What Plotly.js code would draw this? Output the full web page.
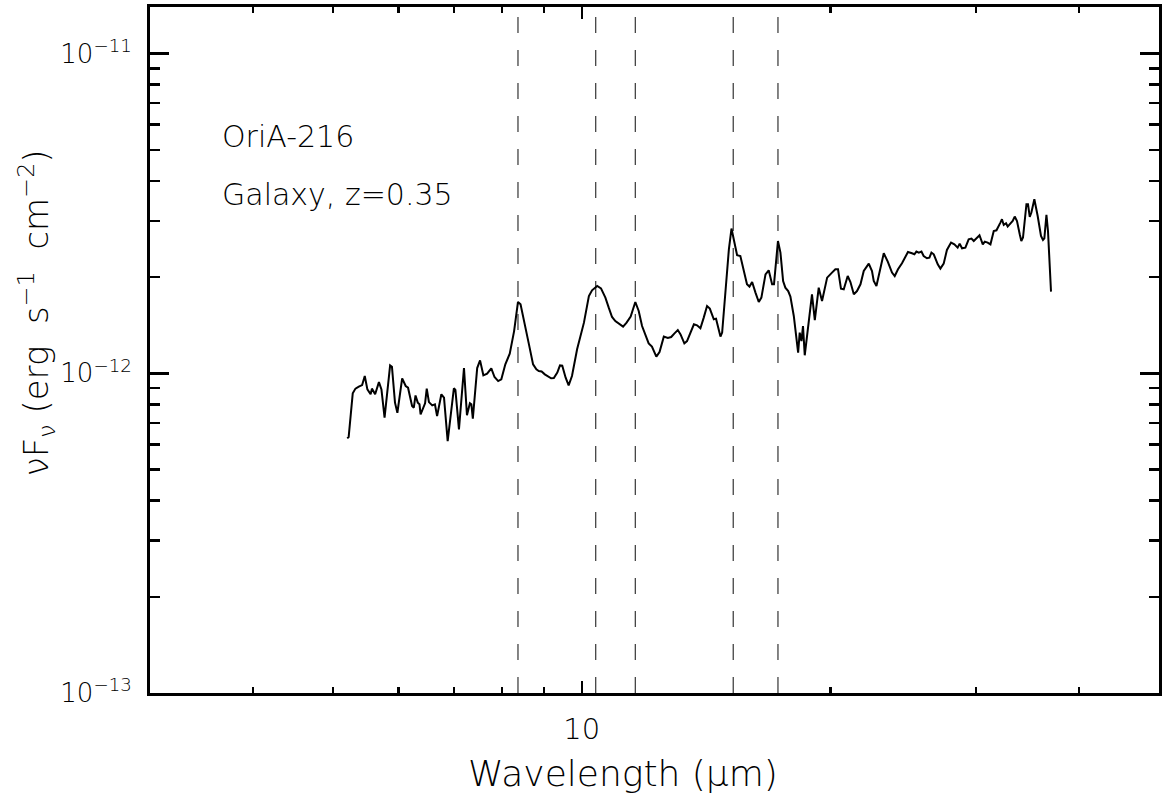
<!DOCTYPE html>
<html>
<head>
<meta charset="utf-8">
<script src="https://cdn.plot.ly/plotly-3.0.1.min.js"></script>
<style>
  html, body { margin: 0; padding: 0; background: #fff; }
  #chart { width: 1164px; height: 802px; }
</style>
</head>
<body>
<div id="chart"></div>
<script>
// Observed wavelength (micron)
const wavelength = [5.20,5.22,5.28,5.32,5.37,5.42,5.46,5.50,5.55,5.57,5.62,5.68,5.72,5.77,5.86,5.89,5.94,5.98,6.06,6.12,6.16,6.23,6.26,6.29,6.33,6.36,6.38,6.46,6.49,6.53,6.59,6.64,6.68,6.76,6.81,6.88,7.00,7.03,7.10,7.20,7.26,7.32,7.35,7.38,7.47,7.53,7.60,7.68,7.77,7.84,7.92,7.99,8.08,8.18,8.28,8.37,8.43,8.51,8.63,8.73,8.81,8.87,8.94,9.02,9.10,9.18,9.25,9.34,9.41,9.47,9.56,9.64,9.73,9.87,10.06,10.20,10.29,10.44,10.55,10.68,10.78,10.88,10.98,11.12,11.22,11.33,11.46,11.61,11.72,11.83,11.94,12.05,12.16,12.31,12.42,12.57,12.71,12.83,12.95,13.07,13.17,13.31,13.41,13.54,13.67,13.79,13.92,14.05,14.18,14.29,14.45,14.54,14.72,14.79,14.93,15.07,15.18,15.28,15.42,15.56,15.71,15.85,15.96,16.08,16.23,16.38,16.50,16.69,16.84,17.00,17.09,17.28,17.40,17.53,17.64,17.78,17.89,18.06,18.28,18.36,18.45,18.53,18.62,18.83,19.00,19.15,19.36,19.54,19.82,20.09,20.28,20.43,20.60,20.76,20.99,21.15,21.35,21.54,21.75,21.95,22.26,22.46,22.57,22.74,22.99,23.21,23.47,23.75,23.93,24.15,24.42,24.66,24.83,25.11,25.28,25.42,25.59,25.78,25.94,26.18,26.36,26.51,26.68,26.98,27.18,27.43,27.68,28.00,28.26,28.52,28.68,28.87,29.14,29.41,29.64,29.83,30.10,30.31,30.59,30.76,31.01,31.25,31.54,31.78,32.13,32.27,32.43,32.64,32.79,33.04,33.25,33.44,33.65,33.91,34.06,34.22,34.55,34.70,34.87,35.03,35.32,35.65,35.98,36.18,36.32,36.53,36.69,37.00];
// nuF_nu in units of 1e-12 erg s^-1 cm^-2
const fluxE12 = [0.626,0.632,0.866,0.896,0.909,0.919,0.981,0.891,0.860,0.896,0.860,0.939,0.891,0.727,1.059,1.049,0.810,0.753,0.965,0.913,0.902,0.790,0.781,0.853,0.810,0.800,0.744,0.806,0.896,0.813,0.794,0.800,0.735,0.860,0.839,0.614,0.898,0.887,0.668,1.039,0.740,0.806,0.800,0.721,1.039,1.098,0.986,0.998,1.037,0.974,0.946,0.958,1.067,1.152,1.356,1.672,1.644,1.476,1.232,1.067,1.029,1.017,1.014,0.993,0.976,0.965,0.967,1.005,1.059,1.057,0.969,0.917,0.981,1.189,1.441,1.746,1.819,1.876,1.845,1.726,1.605,1.501,1.458,1.424,1.400,1.441,1.505,1.672,1.567,1.406,1.324,1.241,1.212,1.128,1.166,1.303,1.290,1.299,1.334,1.366,1.324,1.241,1.262,1.341,1.424,1.413,1.383,1.494,1.624,1.594,1.476,1.483,1.303,1.341,1.809,2.444,2.838,2.627,2.341,2.329,2.090,1.899,1.868,1.931,1.789,1.672,1.726,2.041,2.101,1.899,1.899,2.595,2.387,1.945,1.854,1.809,1.739,1.512,1.161,1.341,1.262,1.406,1.139,1.441,1.767,1.468,1.854,1.684,1.993,2.066,2.116,2.116,1.841,1.832,2.016,1.931,1.767,1.809,1.899,2.090,2.204,2.090,1.945,1.876,2.142,2.375,2.237,2.066,2.016,2.116,2.210,2.329,2.397,2.375,2.358,2.404,2.387,2.404,2.329,2.291,2.302,2.387,2.358,2.193,2.127,2.204,2.432,2.565,2.533,2.474,2.546,2.462,2.474,2.627,2.640,2.595,2.646,2.704,2.533,2.584,2.565,2.533,2.789,2.803,2.962,3.034,2.912,2.948,2.879,2.948,2.997,3.094,2.997,2.723,2.595,2.660,3.381,3.381,3.085,3.184,3.505,3.107,2.690,2.614,2.646,3.130,2.789,1.802];

// Rest-frame feature wavelengths (micron) and redshift
const restLines = [6.2, 7.7, 8.6, 11.3, 12.8];
const redshift = 0.35;

const sourceName = "OriA-216";
const sourceInfo = "Galaxy, z=0.35";
const xTitle = "Wavelength (μm)";
const yTitle = "νF<sub>ν</sub> (erg  s<sup>−1</sup>  cm<sup>−2</sup>)";

const xTickVals = [10];
const xTickText = ["10"];
const xMinorVals = [3,4,5,6,7,8,9,20,30,40];
const yTickVals = [1e-13, 1e-12, 1e-11];
const yTickText = ["10<sup>−13</sup>", "10<sup>−12</sup>", "10<sup>−11</sup>"];
const yMinorVals = [2e-13,3e-13,4e-13,5e-13,6e-13,7e-13,8e-13,9e-13,2e-12,3e-12,4e-12,5e-12,6e-12,7e-12,8e-12,9e-12];

const FONT = "DejaVu Sans, Noto Sans, sans-serif";
const TXT = "#000";
const flux = fluxE12.map(v => v * 1e-12);

const trace = {
  x: wavelength, y: flux, type: "scatter", mode: "lines",
  line: { color: "#000", width: 2 }, hoverinfo: "skip", showlegend: false
};

const shapes = restLines.map(l => ({
  type: "line", xref: "x", yref: "paper",
  x0: l * (1 + redshift), x1: l * (1 + redshift), y0: 0, y1: 1,
  line: { color: "#444", width: 1.3, dash: "16px,17px" }, layer: "below"
}));

const layout = {
  width: 1164, height: 802,
  margin: { l: 150, r: 5, t: 7, b: 109 },
  paper_bgcolor: "#fff", plot_bgcolor: "#fff",
  font: { family: FONT, color: TXT, weight: 200 },
  showlegend: false,
  xaxis: {
    type: "log", range: [Math.log10(3), Math.log10(50)],
    tickmode: "array", tickvals: xTickVals, ticktext: xTickText,
    ticks: "inside", ticklen: 12, tickwidth: 2.5, tickcolor: "#000",
    minor: { tickmode: "array", tickvals: xMinorVals, ticks: "inside", ticklen: 6, tickwidth: 2.5, tickcolor: "#000", showgrid: false },
    showline: true, linewidth: 3, linecolor: "#000", mirror: "ticks",
    showgrid: false, zeroline: false,
    tickfont: { size: 29, family: FONT, color: TXT, weight: 200 },
    ticklabelstandoff: 8
  },
  yaxis: {
    type: "log", range: [-13, Math.log10(1.4e-11)],
    tickmode: "array", tickvals: yTickVals, ticktext: yTickText,
    ticks: "inside", ticklen: 19, tickwidth: 2.5, tickcolor: "#000",
    minor: { tickmode: "array", tickvals: yMinorVals, ticks: "inside", ticklen: 10, tickwidth: 2.5, tickcolor: "#000", showgrid: false },
    showline: true, linewidth: 3, linecolor: "#000", mirror: "ticks",
    showgrid: false, zeroline: false,
    tickfont: { size: 26, family: FONT, color: TXT, weight: 200 },
    ticklabelstandoff: 10
  },
  shapes: shapes,
  annotations: [
    { xref: "paper", yref: "paper", x: 0.0694, y: 0.8105, xanchor: "left", yanchor: "middle", showarrow: false,
      text: sourceName, font: { size: 30, family: FONT, color: TXT, weight: 200 } },
    { xref: "paper", yref: "paper", x: 0.0694, y: 0.726, xanchor: "left", yanchor: "middle", showarrow: false,
      text: sourceInfo, font: { size: 30, family: FONT, color: TXT, weight: 200 } },
    { xref: "paper", yref: "paper", x: 0.469, y: -0.117, xanchor: "center", yanchor: "middle", showarrow: false,
      text: xTitle, font: { size: 36, family: FONT, color: TXT, weight: 200 } },
    { xref: "paper", yref: "paper", x: -0.113, y: 0.555, xanchor: "center", yanchor: "middle", showarrow: false,
      textangle: -90, text: yTitle, font: { size: 34, family: FONT, color: TXT, weight: 200 } }
  ]
};

Plotly.newPlot("chart", [trace], layout, { displayModeBar: false, staticPlot: true });
</script>
</body>
</html>
